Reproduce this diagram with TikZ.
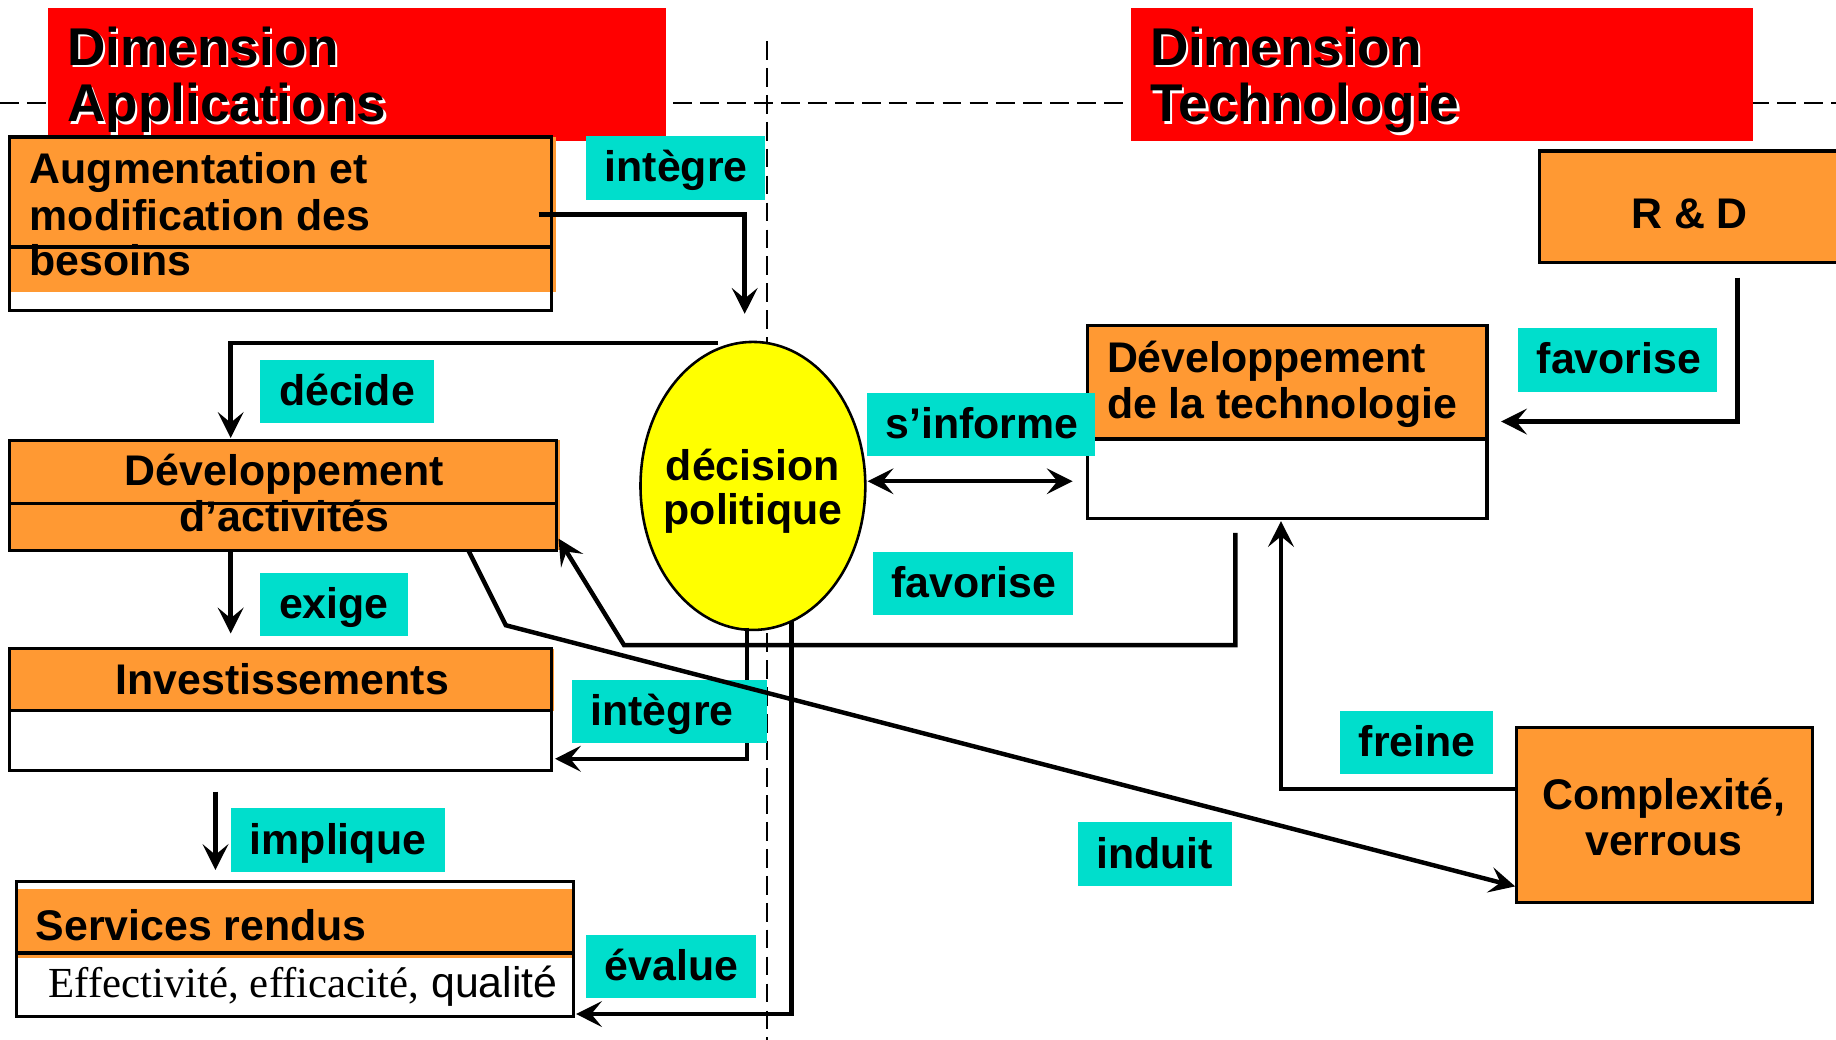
\documentclass[tikz,border=0pt]{standalone}
\usepackage{fontspec}
\setmainfont{Liberation Sans}
\newfontfamily\timesf{Liberation Serif}
\usetikzlibrary{arrows.meta,fit,shapes.geometric}
\definecolor{hdred}{RGB}{255,0,0}
\definecolor{boxor}{RGB}{255,153,51}
\definecolor{labcy}{RGB}{0,222,204}
\definecolor{ellyel}{RGB}{255,255,0}
\hyphenpenalty=10000
\exhyphenpenalty=10000
\begin{document}
\begin{tikzpicture}[x=0.5pt,y=-0.5pt,
  conn/.style={line width=1.9pt, -{Stealth[length=11pt,width=11pt,inset=4.5pt]}},
  lab/.style={fill=labcy, anchor=north west, inner xsep=8pt, inner ysep=0pt,
     text height=19.5pt, text depth=7.5pt, text width=#1,
     font=\fontsize{18.3}{20}\selectfont\bfseries, align=left},
  txt/.style={font=\fontsize{18.3}{20}\selectfont\bfseries, inner sep=0pt},
  hdr/.style={font=\fontsize{22.7}{24}\selectfont\bfseries, inner sep=0pt, anchor=base west},
  border/.style={draw=black, line width=1.4pt, inner sep=0pt},
  dashl/.style={dash pattern=on 8pt off 3.5pt, line width=1pt}
]
\useasboundingbox (0,0) rectangle (1568,888);
\clip (0,0) rectangle (1568,888);
\fill[white] (0,0) rectangle (1568,888);

% dashed separators
\draw[dashl] (0,88) -- (1568,88);
\draw[dashl] (655,35) -- (655,888);

% headers
\node[fill=hdred, fit={(41,7)(569,120)}, inner sep=0pt] (hA) {};
\node[fill=hdred, fit={(966,7)(1497,120)}, inner sep=0pt] (hT) {};
\node[hdr, white] at (59,58) {Dimension};
\node[hdr, white] at (59,106) {Applications};
\node[hdr] (hA1) at (57,56) {Dimension};
\node[hdr] (hA2) at (57,104) {Applications};
\node[hdr, white] at (984,58) {Dimension};
\node[hdr, white] at (984,106) {Technologie};
\node[hdr] (hT1) at (982,56) {Dimension};
\node[hdr] (hT2) at (982,104) {Technologie};

% Augmentation box
\fill[boxor] (8,117) rectangle (475,249);
\draw[line width=1.4pt] (8,211) -- (471,211);
\node[border, fit={(8,117)(471,265)}] (aug) {};
\node[txt, anchor=base west] (aug1) at (25,157) {Augmentation et};
\node[txt, anchor=base west] (aug2) at (25,197) {modification des};
\node[txt, anchor=base west] (aug3) at (25,235) {besoins};

% Developpement d'activites
\fill[boxor] (8,376) rectangle (478,470);
\draw[line width=1.4pt] (8,430) -- (475,430);
\node[border, fit={(8,376)(475,470)}] (dact) {};
\node[txt, anchor=base] (dact1) at (243,415) {Développement};
\node[txt, anchor=base] (dact2) at (243,454) {d’activités};

% Investissements
\fill[boxor] (8,554) rectangle (473,607);
\draw[line width=1.4pt] (8,607) -- (471,607);
\node[border, fit={(8,554)(471,658)}] (inv) {};
\node[txt, anchor=base] (inv1) at (241,593) {Investissements};

% Services rendus
\fill[boxor] (14,759) rectangle (490,818);
\draw[line width=1.4pt] (14,814) -- (490,814);
\node[border, fit={(14,753)(490,868)}] (serv) {};
\node[txt, anchor=base west] (serv1) at (30,803) {Services rendus};
\node[inner sep=0pt, anchor=base west, font=\fontsize{18.3}{20}\selectfont] (serv2) at (41,852) {{\timesf Effectivité, efficacité,} qualité};

% Developpement de la technologie
\fill[boxor] (929,278) rectangle (1270,373);
\draw[line width=1.4pt] (929,375) -- (1270,375);
\node[border, fit={(929,278)(1270,443)}] (dtech) {};
\node[txt, anchor=base west] (dtech1) at (945,318) {Développement};
\node[txt, anchor=base west] (dtech2) at (945,357) {de la technologie};

% R & D
\node[border, fill=boxor, fit={(1315,129)(1600,224)}] (rd) {};
\node[txt, anchor=base] (rd1) at (1443,195) {R \& D};

% Complexite
\node[border, fill=boxor, fit={(1295,621)(1548,771)}] (cplx) {};
\node[txt, anchor=base] (cplx1) at (1421,691) {Complexité,};
\node[txt, anchor=base] (cplx2) at (1421,731) {verrous};

% decision politique
\node[draw, line width=1.1pt, fill=ellyel, ellipse, minimum width=96pt, minimum height=123pt, inner sep=0pt] (dec) at (643,415) {};
\node[txt, anchor=base] (dec1) at (643,410) {décision};
\node[txt, anchor=base] (dec2) at (643,448) {politique};

% connector end points
\coordinate (augout) at (460,183);
\coordinate (decin) at (636,268);
\coordinate (decl) at (613,293);
\coordinate (dactin) at (197,374);
\coordinate (dactout) at (197,470);
\coordinate (invin) at (197,541);
\coordinate (decb1) at (638,536);
\coordinate (invr) at (474,648);
\coordinate (implst) at (184,676);
\coordinate (servin) at (184,743);
\coordinate (decb2) at (676,530);
\coordinate (servr) at (492,866);
\coordinate (dtechb) at (1055,455);
\coordinate (fav1c) at (533,551);
\coordinate (dactr) at (477,460);
\coordinate (dacts) at (400,470);
\coordinate (indc) at (432,534);
\coordinate (cplxw) at (1294,757);
\coordinate (decr) at (741,411);
\coordinate (dtechl) at (916,411);
\coordinate (rdout) at (1484,237);
\coordinate (dtechr) at (1282,360);
\coordinate (cplxf) at (1295,674);
\coordinate (dtechin) at (1094,445);

% connectors
\draw[conn] (augout) -| (decin);
\draw[conn] (decl) -| (dactin);
\draw[conn] (dactout) -- (invin);
\draw[conn] (decb1) |- (invr);
\draw[conn] (implst) -- (servin);
\draw[conn] (decb2) |- (servr);
\draw[conn] (dtechb) |- (fav1c) -- (dactr);
\draw[line width=1.9pt, {Stealth[length=11pt,width=11pt,inset=4.5pt]}-{Stealth[length=11pt,width=11pt,inset=4.5pt]}] (decr) -- (dtechl);
\draw[conn] (rdout) |- (dtechr);
\draw[conn] (cplxf) -| (dtechin);

% labels
\node[lab=60.5pt] (l1) at (500,116) {intègre};
\node[lab=58pt] (l2) at (222,307) {décide};
\node[lab=47pt] (l3) at (222,489) {exige};
\node[lab=67.5pt] (l4) at (488,580) {intègre};
\node[lab=75.5pt] (l5) at (197,690) {implique};
\node[lab=56.5pt] (l6) at (500,798) {évalue};
\node[lab=81.5pt] (l7) at (740,335) {s’informe};
\node[lab=69.5pt] (l8) at (745,471) {favorise};
\node[lab=69pt] (l9) at (1296,280) {favorise};
\node[lab=49.5pt] (l10) at (1144,607) {freine};
\node[lab=50pt] (l11) at (920,702) {induit};

% induit connector (on top of labels)
\draw[conn] (dacts) -- (indc) -- (cplxw);
\end{tikzpicture}
\end{document}
